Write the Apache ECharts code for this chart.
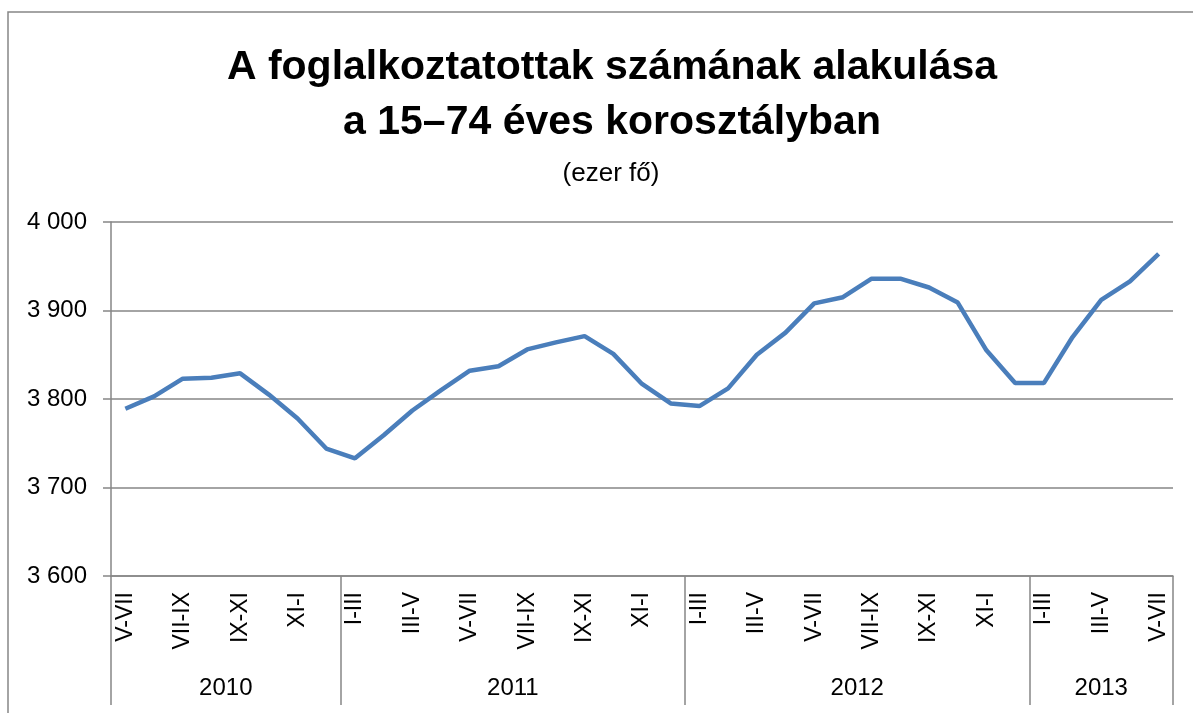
<!DOCTYPE html>
<html>
<head>
<meta charset="utf-8">
<script src="https://cdn.jsdelivr.net/npm/echarts@6/dist/echarts.min.js"></script>
<style>
  html, body { margin: 0; padding: 0; background: #fff; }
  #chart { width: 1193px; height: 713px; }
</style>
</head>
<body>
<div id="chart"></div>
<script>
// rolling three-month periods, May-Jul 2010 .. May-Jul 2013
const periods = [
  'V-VII', 'VI-VIII', 'VII-IX', 'VIII-X', 'IX-XI', 'X-XII', 'XI-I', 'XII-II',
  'I-III', 'II-IV', 'III-V', 'IV-VI', 'V-VII', 'VI-VIII', 'VII-IX', 'VIII-X', 'IX-XI', 'X-XII', 'XI-I', 'XII-II',
  'I-III', 'II-IV', 'III-V', 'IV-VI', 'V-VII', 'VI-VIII', 'VII-IX', 'VIII-X', 'IX-XI', 'X-XII', 'XI-I', 'XII-II',
  'I-III', 'II-IV', 'III-V', 'IV-VI', 'V-VII'
];
const employed = [
  3789, 3803, 3823, 3824, 3829, 3805, 3778, 3744,
  3733, 3759, 3787, 3810, 3832, 3837, 3856, 3864, 3871, 3851, 3817, 3795,
  3792, 3812, 3850, 3875, 3908, 3915, 3936, 3936, 3926, 3909, 3855, 3818,
  3818, 3870, 3912, 3933, 3964
];
const years = ['2010', '2011', '2012', '2013'];
const yearSpans = [8, 12, 12, 5];

// year group boundaries and centres (in category units)
const bounds = [0];
yearSpans.forEach(n => bounds.push(bounds[bounds.length - 1] + n));
const centers = years.map((y, i) => (bounds[i] + bounds[i + 1]) / 2);

const gray = '#868686';
const font = 'Liberation Sans';

const chart = echarts.init(document.getElementById('chart'));
chart.setOption({
  animation: false,
  title: [
    {
      text: 'A foglalkoztatottak számának alakulása\na 15–74 éves korosztályban',
      left: 607,
      top: 35,
      textAlign: 'center',
      textStyle: { fontFamily: font, fontWeight: 'bold', fontSize: 41, lineHeight: 55, color: '#000' }
    },
    {
      text: '(ezer fő)',
      left: 606,
      top: 156,
      textAlign: 'center',
      textStyle: { fontFamily: font, fontWeight: 'normal', fontSize: 26, color: '#000' }
    }
  ],
  graphic: [{
    type: 'rect',
    shape: { x: 8, y: 12, width: 1220, height: 740 },
    style: { fill: 'none', stroke: gray, lineWidth: 1.5 },
    silent: true
  }],
  grid: { left: 111, right: 20, top: 222, bottom: 137 },
  xAxis: [
    {
      type: 'category',
      data: periods,
      boundaryGap: true,
      axisLine: { lineStyle: { color: gray, width: 1.5 } },
      axisTick: { interval: 0, length: 77, lineStyle: { color: gray, width: 1.5 } },
      axisLabel: {
        interval: 1, rotate: 90, margin: 16,
        fontFamily: font, fontSize: 23, color: '#000'
      }
    },
    {
      type: 'value',
      position: 'bottom',
      min: 0,
      max: periods.length,
      axisLine: { show: false },
      splitLine: { show: false },
      axisTick: { customValues: bounds, length: 129, lineStyle: { color: gray, width: 1.5 } },
      axisLabel: {
        customValues: centers,
        margin: 100,
        fontFamily: font, fontSize: 24, color: '#000',
        formatter: v => years[centers.indexOf(v)]
      }
    }
  ],
  yAxis: {
    type: 'value',
    min: 3600,
    max: 4000,
    interval: 100,
    axisLine: { show: true, lineStyle: { color: gray, width: 1.5 } },
    axisTick: { show: true, length: 8, lineStyle: { color: gray, width: 1.5 } },
    splitLine: { lineStyle: { color: gray, width: 1.5 } },
    axisLabel: {
      margin: 24,
      fontFamily: font, fontSize: 24, color: '#000',
      formatter: v => String(v).replace(/\B(?=(\d{3})+(?!\d))/g, ' ')
    }
  },
  series: [{
    type: 'line',
    data: employed,
    xAxisIndex: 0,
    symbol: 'none',
    lineStyle: { color: '#4a7ebb', width: 4.5 },
    itemStyle: { color: '#4a7ebb' }
  }]
});
</script>
</body>
</html>
